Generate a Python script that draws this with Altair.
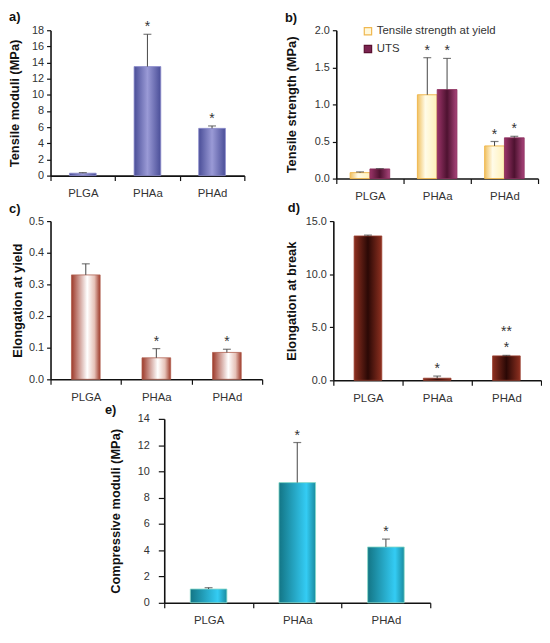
import altair as alt
import pandas as pd

FONT = "Liberation Sans"
cats = ["PLGA", "PHAa", "PHAd"]

# a) Tensile moduli
a_val = [0.3, 13.5, 5.85]
a_err = [0.08, 4.0, 0.3]
a_sig = ["", "*", "*"]

# b) Tensile strength
b_series = ["Tensile strength at yield", "UTS"]
b_yield = [0.08, 1.13, 0.44]
b_yield_err = [0.01, 0.50, 0.06]
b_uts = [0.13, 1.20, 0.55]
b_uts_err = [0.005, 0.42, 0.02]
b_yield_sig = ["", "*", "*"]
b_uts_sig = ["", "*", "*"]

# c) Elongation at yield
c_val = [0.33, 0.068, 0.085]
c_err = [0.035, 0.029, 0.01]
c_sig = ["", "*", "*"]

# d) Elongation at break
d_val = [13.6, 0.2, 2.3]
d_err = [0.08, 0.2, 0.05]
d_sig = ["", "*", "*"]
d_sig2 = ["", "", "**"]

# e) Compressive moduli
e_val = [1.05, 9.15, 4.25]
e_err = [0.1, 3.05, 0.6]
e_sig = ["", "*", "*"]

panel_labels = ["a)", "b)", "c)", "d)", "e)"]


def grad(stops):
    return alt.Gradient(
        gradient="linear", x1=0, x2=1, y1=0, y2=0,
        stops=[alt.GradientStop(color=c, offset=o) for o, c in stops],
    )


g_a = grad([(0, "#4a4e98"), (0.5, "#9a9ad6"), (1, "#4a4e98")])
g_yield = grad([(0, "#f0c060"), (0.4, "#fffbe8"), (1, "#fff1b8")])
g_uts = grad([(0, "#9a3468"), (0.5, "#4e1230"), (1, "#a8447a")])
g_c = grad([(0, "#9e3a2a"), (0.55, "#ffffff"), (0.8, "#e6c2b8"), (1, "#9e3a2a")])
g_d = grad([(0, "#8e3020"), (0.5, "#2a0805"), (1, "#8e3020")])
g_e = grad([(0, "#137585"), (0.75, "#34ccf4"), (1, "#1a8ca0")])


def yenc(field, title, domain, ticks, fmt, tpad, lpad=3, tsize=4):
    return alt.Y(field, scale=alt.Scale(domain=domain, nice=False),
                 axis=alt.Axis(title=title, values=ticks, format=fmt,
                               labelOverlap=False, titlePadding=tpad,
                               labelPadding=lpad, tickSize=tsize))


def xenc():
    return alt.X("cat:N", sort=cats,
                 scale=alt.Scale(paddingInner=0, paddingOuter=0),
                 axis=alt.Axis(title=None, labelAngle=0, tickBand="extent"))


def label_layer(text, lx, ly):
    return alt.Chart(pd.DataFrame({"lab": [text]})).mark_text(
        align="left", baseline="middle", font=FONT, fontSize=13,
        fontWeight="bold", color="#111111").encode(
        x=alt.value(lx), y=alt.value(ly), text="lab:N")


def panel(label, lpos, vals, errs, sigs, yargs, g, stroke, w, h, bw, sig2=None):
    df = pd.DataFrame({"cat": cats, "v": vals,
                       "top": [v + e for v, e in zip(vals, errs)],
                       "sig": sigs})
    if sig2 is not None:
        df["sig2"] = sig2
    base = alt.Chart(df).encode(x=xenc())
    bars = base.mark_bar(size=bw, color=g, stroke=stroke, strokeWidth=0.8).encode(
        y=yenc("v:Q", *yargs))
    rule = base.mark_rule(color="#444444", strokeWidth=1).encode(
        y=yenc("v:Q", *yargs), y2="top:Q")
    cap = base.mark_tick(color="#444444", size=8, thickness=1.2).encode(
        y=yenc("top:Q", *yargs))
    star = base.transform_filter(alt.datum.sig != "").mark_text(
        fontSize=14, font=FONT, color="#333333", dy=-3,
        baseline="alphabetic").encode(y=yenc("top:Q", *yargs), text="sig:N")
    layers = [bars, rule, cap, star]
    if sig2 is not None:
        star2 = base.transform_filter(alt.datum.sig2 != "").mark_text(
            fontSize=14, font=FONT, color="#333333", dy=-20,
            baseline="alphabetic").encode(y=yenc("top:Q", *yargs), text="sig2:N")
        layers.append(star2)
    layers.append(label_layer(label, *lpos))
    return alt.layer(*layers).properties(width=w, height=h)


pa = panel(panel_labels[0], (-42, -13), a_val, a_err, a_sig,
           ("Tensile moduli (MPa)", [0, 18], list(range(0, 19, 2)), "d", 10),
           g_a, "#8c8ccc", 196, 147, 27)
pc = panel(panel_labels[2], (-42, -12), c_val, c_err, c_sig,
           ("Elongation at yield", [0, 0.5], [0, 0.1, 0.2, 0.3, 0.4, 0.5], ".1f", 4),
           g_c, "#b06050", 214, 160, 29)
pd_ = panel(panel_labels[3], (-46, -13), d_val, d_err, d_sig,
            ("Elongation at break", [0, 15], [0, 5, 10, 15], ".1f", 7),
            g_d, "#9a4030", 210, 161, 28, sig2=d_sig2)
pe = panel(panel_labels[4], (-60, -9), e_val, e_err, e_sig,
           ("Compressive moduli (MPa)", [0, 14], list(range(0, 15, 2)), "d", 15, 9, 6),
           g_e, "#8adcc8", 269, 186, 37)

# b) grouped
dfb = pd.DataFrame({
    "cat": cats * 2,
    "series": [b_series[0]] * 3 + [b_series[1]] * 3,
    "v": b_yield + b_uts,
    "top": [v + e for v, e in zip(b_yield, b_yield_err)] + [v + e for v, e in zip(b_uts, b_uts_err)],
    "sig": b_yield_sig + b_uts_sig,
})
xo = alt.XOffset("series:N", sort=b_series,
                 scale=alt.Scale(domain=b_series, paddingInner=0, paddingOuter=0.7))
bbase = alt.Chart(dfb).encode(x=xenc(), xOffset=xo)
bY = ("Tensile strength (MPa)", [0, 2], [0, 0.5, 1, 1.5, 2], ".1f", 16)
by = bbase.transform_filter(alt.datum.series == b_series[0]).mark_bar(
    color=g_yield, stroke="#f0b850", strokeWidth=1).encode(y=yenc("v:Q", *bY))
bu = bbase.transform_filter(alt.datum.series == b_series[1]).mark_bar(
    color=g_uts, stroke="#8a2a5a", strokeWidth=0.8).encode(y=yenc("v:Q", *bY))
brule = bbase.mark_rule(color="#444444").encode(y=yenc("v:Q", *bY), y2="top:Q")
bcap = bbase.mark_tick(color="#444444", size=8, thickness=1.2).encode(y=yenc("top:Q", *bY))
bstar = bbase.transform_filter(alt.datum.sig != "").mark_text(
    fontSize=14, font=FONT, color="#333333", dy=-3,
    baseline="alphabetic").encode(y=yenc("top:Q", *bY), text="sig:N")

# manual legend for b
leg_df = pd.DataFrame({"series": b_series})
leg_layers = []
leg_fill = ["#fff8dc", "#7a2350"]
leg_stroke = ["#f0b850", "#5a1030"]
for i, s in enumerate(b_series):
    one = alt.Chart(leg_df).transform_filter(alt.datum.series == s)
    leg_layers.append(one.mark_square(size=55, fill=leg_fill[i], stroke=leg_stroke[i],
                                      strokeWidth=1.2, opacity=1).encode(
        x=alt.value(32), y=alt.value(1 + 18 * i)))
    leg_layers.append(one.mark_text(align="left", baseline="middle", font=FONT,
                                    fontSize=11.5, color="#333333").encode(
        x=alt.value(41), y=alt.value(1 + 18 * i), text="series:N"))

pb = alt.layer(by, bu, brule, bcap, bstar, *leg_layers,
               label_layer(panel_labels[1], -52, -12)).properties(width=204, height=150)

spacer = alt.Chart(pd.DataFrame({"z": [0]})).mark_point(opacity=0, size=1).encode(
    x=alt.value(0), y=alt.value(0)).properties(width=44, height=10)

row1 = alt.hconcat(pa, pb, spacing=40)
row2 = alt.hconcat(pc, pd_, spacing=22)
row3 = alt.hconcat(spacer, pe, spacing=11)

chart = alt.vconcat(row1, row2, row3, spacing=0).properties(
    padding=0
).configure_view(
    stroke=None
).configure_axis(
    grid=False, domainColor="#111111", domainWidth=1.6, tickColor="#111111",
    tickSize=4, tickWidth=1.2, labelColor="#333333", labelFont=FONT,
    labelFontSize=11, titleFont=FONT, titleFontSize=13, titleFontWeight="bold",
    titleColor="#111111",
).configure_axisX(
    tickSize=5, labelPadding=7, labelFontSize=11.5
)

chart.save("out.html", embed_options={"renderer": "svg", "actions": False})
